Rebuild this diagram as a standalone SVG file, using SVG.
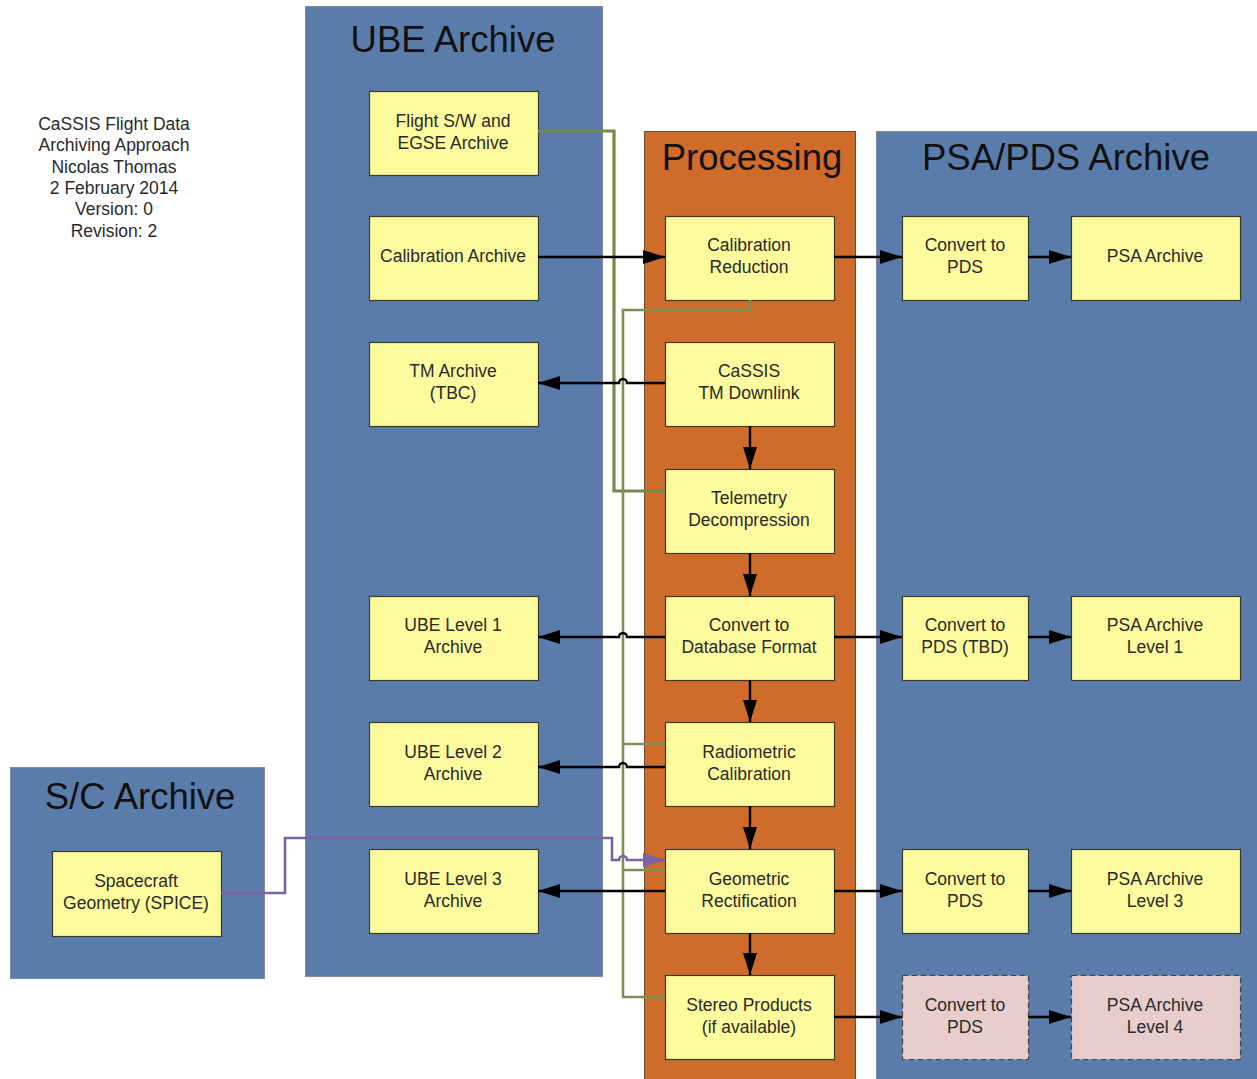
<svg xmlns="http://www.w3.org/2000/svg" width="1257" height="1079" viewBox="0 0 1257 1079">
<defs>
<style>
.cont{fill:#5a7cab;stroke:#7f8a99;stroke-width:1}
.proc{fill:#cf6b2b;stroke:#6f4a30;stroke-width:1}
.box{fill:#fdfb9e;stroke:#3a3a2a;stroke-width:1.2}
.pink{fill:#e8cdcd;stroke:#444;stroke-width:1.2;stroke-dasharray:6,3}
.t{font-family:"Liberation Sans",Arial,sans-serif;font-size:17.5px;fill:#2a2a2a;text-anchor:middle}
.h{font-family:"Liberation Sans",Arial,sans-serif;font-size:36.5px;fill:#111;text-anchor:middle}
.blk{fill:none;stroke:#000;stroke-width:2.4}
.grn{fill:none;stroke:#76884a;stroke-width:3.2}
.grn2{fill:none;stroke:#7d8f52;stroke-width:2.6}
.pur{fill:none;stroke:#7a62a3;stroke-width:2.6}
</style>
<marker id="ap" viewBox="0 0 10 10" refX="10" refY="5" markerWidth="22" markerHeight="14" markerUnits="userSpaceOnUse" orient="auto" preserveAspectRatio="none"><path d="M0,0 L10,5 L0,10 z" fill="#7a62a3"/></marker>
<marker id="a2" viewBox="0 0 10 10" refX="10" refY="5" markerWidth="22" markerHeight="14" markerUnits="userSpaceOnUse" orient="auto" preserveAspectRatio="none"><path d="M0,0 L10,5 L0,10 z" fill="#000"/></marker>
</defs>

<g id="info">
<text class="t" x="114" y="130">CaSSIS Flight Data</text>
<text class="t" x="114" y="151">Archiving Approach</text>
<text class="t" x="114" y="173">Nicolas Thomas</text>
<text class="t" x="114" y="194">2 February 2014</text>
<text class="t" x="114" y="215">Version: 0</text>
<text class="t" x="114" y="237">Revision: 2</text>
</g>

<g id="ube-archive">
<rect class="cont" x="305.500" y="6.500" width="297" height="970"/>
<text class="h" x="453" y="52">UBE Archive</text>
</g>
<g id="processing">
<rect class="proc" x="644.500" y="131.500" width="211" height="960"/>
<text class="h" x="752" y="170">Processing</text>
</g>
<g id="psa-pds-archive">
<rect class="cont" x="876.500" y="131.500" width="392" height="960"/>
<text class="h" x="1066" y="170">PSA/PDS Archive</text>
</g>
<g id="sc-archive">
<rect class="cont" x="10.500" y="767.500" width="254" height="211"/>
<text class="h" x="140" y="809">S/C Archive</text>
</g>

<g id="flight-sw"><rect class="box" x="369.500" y="91.500" width="169" height="84"/><text class="t" x="453" y="127">Flight S/W and</text><text class="t" x="453" y="149">EGSE Archive</text></g>
<g id="calibration-archive"><rect class="box" x="369.500" y="216.500" width="169" height="84"/><text class="t" x="453" y="262">Calibration Archive</text></g>
<g id="tm-archive"><rect class="box" x="369.500" y="342.500" width="169" height="84"/><text class="t" x="453" y="377">TM Archive</text><text class="t" x="453" y="399">(TBC)</text></g>
<g id="ube-level1"><rect class="box" x="369.500" y="596.500" width="169" height="84"/><text class="t" x="453" y="631">UBE Level 1</text><text class="t" x="453" y="653">Archive</text></g>
<g id="ube-level2"><rect class="box" x="369.500" y="722.500" width="169" height="84"/><text class="t" x="453" y="758">UBE Level 2</text><text class="t" x="453" y="780">Archive</text></g>
<g id="ube-level3"><rect class="box" x="369.500" y="849.500" width="169" height="84"/><text class="t" x="453" y="885">UBE Level 3</text><text class="t" x="453" y="907">Archive</text></g>

<g id="calibration-reduction"><rect class="box" x="665.500" y="216.500" width="169" height="84"/><text class="t" x="749" y="251">Calibration</text><text class="t" x="749" y="273">Reduction</text></g>
<g id="tm-downlink"><rect class="box" x="665.500" y="342.500" width="169" height="84"/><text class="t" x="749" y="377">CaSSIS</text><text class="t" x="749" y="399">TM Downlink</text></g>
<g id="telemetry-decompression"><rect class="box" x="665.500" y="469.500" width="169" height="84"/><text class="t" x="749" y="504">Telemetry</text><text class="t" x="749" y="526">Decompression</text></g>
<g id="convert-db"><rect class="box" x="665.500" y="596.500" width="169" height="84"/><text class="t" x="749" y="631">Convert to</text><text class="t" x="749" y="653">Database Format</text></g>
<g id="radiometric"><rect class="box" x="665.500" y="722.500" width="169" height="84"/><text class="t" x="749" y="758">Radiometric</text><text class="t" x="749" y="780">Calibration</text></g>
<g id="geometric"><rect class="box" x="665.500" y="849.500" width="169" height="84"/><text class="t" x="749" y="885">Geometric</text><text class="t" x="749" y="907">Rectification</text></g>
<g id="stereo"><rect class="box" x="665.500" y="975.500" width="169" height="84"/><text class="t" x="749" y="1011">Stereo Products</text><text class="t" x="749" y="1033">(if available)</text></g>

<g id="convert-pds-1"><rect class="box" x="902.500" y="216.500" width="126" height="84"/><text class="t" x="965" y="251">Convert to</text><text class="t" x="965" y="273">PDS</text></g>
<g id="psa-archive"><rect class="box" x="1071.500" y="216.500" width="169" height="84"/><text class="t" x="1155" y="262">PSA Archive</text></g>
<g id="convert-pds-tbd"><rect class="box" x="902.500" y="596.500" width="126" height="84"/><text class="t" x="965" y="631">Convert to</text><text class="t" x="965" y="653">PDS (TBD)</text></g>
<g id="psa-level1"><rect class="box" x="1071.500" y="596.500" width="169" height="84"/><text class="t" x="1155" y="631">PSA Archive</text><text class="t" x="1155" y="653">Level 1</text></g>
<g id="convert-pds-3"><rect class="box" x="902.500" y="849.500" width="126" height="84"/><text class="t" x="965" y="885">Convert to</text><text class="t" x="965" y="907">PDS</text></g>
<g id="psa-level3"><rect class="box" x="1071.500" y="849.500" width="169" height="84"/><text class="t" x="1155" y="885">PSA Archive</text><text class="t" x="1155" y="907">Level 3</text></g>
<g id="convert-pds-4"><rect class="pink" x="902.500" y="975.500" width="126" height="84"/><text class="t" x="965" y="1011">Convert to</text><text class="t" x="965" y="1033">PDS</text></g>
<g id="psa-level4"><rect class="pink" x="1071.500" y="975.500" width="169" height="84"/><text class="t" x="1155" y="1011">PSA Archive</text><text class="t" x="1155" y="1033">Level 4</text></g>

<g id="spacecraft-geometry"><rect class="box" x="52.500" y="851.500" width="169" height="85"/><text class="t" x="136" y="887">Spacecraft</text><text class="t" x="136" y="909">Geometry (SPICE)</text></g>

<g id="connectors">
<path class="grn" d="M538,131 H614 V491 H665"/>
<path class="grn2" d="M750,300 V310 H623 V997 H665"/>
<path class="grn2" d="M623,744 H665"/>
<path class="grn2" d="M623,870 H665"/>
<path class="pur" d="M221,893 H285 V838 H612 V860 H619 A4,4 0 0 1 627,860 H665" marker-end="url(#ap)"/>
<path class="blk" d="M538,257 H665" marker-end="url(#a2)"/>
<path class="blk" d="M834,257 H902" marker-end="url(#a2)"/>
<path class="blk" d="M1028,257 H1071" marker-end="url(#a2)"/>
<path class="blk" d="M665,383 H627 A4,4 0 0 0 619,383 H538" marker-end="url(#a2)"/>
<path class="blk" d="M750,426 V469" marker-end="url(#a2)"/>
<path class="blk" d="M750,553 V596" marker-end="url(#a2)"/>
<path class="blk" d="M665,637 H627 A4,4 0 0 0 619,637 H538" marker-end="url(#a2)"/>
<path class="blk" d="M834,637 H902" marker-end="url(#a2)"/>
<path class="blk" d="M1028,637 H1071" marker-end="url(#a2)"/>
<path class="blk" d="M750,680 V722" marker-end="url(#a2)"/>
<path class="blk" d="M665,767 H627 A4,4 0 0 0 619,767 H538" marker-end="url(#a2)"/>
<path class="blk" d="M750,806 V849" marker-end="url(#a2)"/>
<path class="blk" d="M665,891 H538" marker-end="url(#a2)"/>
<path class="blk" d="M834,891 H902" marker-end="url(#a2)"/>
<path class="blk" d="M1028,891 H1071" marker-end="url(#a2)"/>
<path class="blk" d="M750,933 V975" marker-end="url(#a2)"/>
<path class="blk" d="M834,1017 H902" marker-end="url(#a2)"/>
<path class="blk" d="M1028,1017 H1071" marker-end="url(#a2)"/>
</g>
</svg>
